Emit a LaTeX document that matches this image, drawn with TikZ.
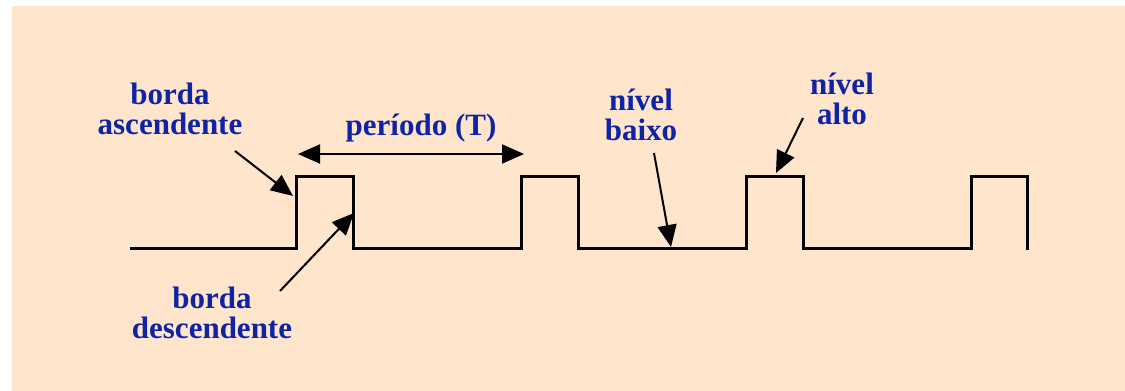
\documentclass[tikz,border=0pt]{standalone}
\usepackage{fontspec}
\setmainfont{Liberation Serif}
\usepackage{tikz}
\usetikzlibrary{arrows.meta,positioning}
\definecolor{labelblue}{RGB}{14,36,164}
\definecolor{peachbg}{RGB}{255,229,204}

\begin{document}
\begin{tikzpicture}[
    x=1pt, y=-1pt,
    lbl/.style={anchor=base, inner sep=0pt, align=center, text=labelblue,
                font=\fontsize{31}{29.5}\selectfont\bfseries},
    wave/.style={line width=3pt, line cap=rect, black},
    tip/.tip={Triangle[length=22pt, width=19pt]},
    arrow/.style={-tip, line width=2pt, black}
]
\useasboundingbox (0,0) rectangle (1125,391);
\fill[peachbg] (12,6) rectangle (1125,391);

% clock signal, period 225
\draw[wave] (131,248) -- (296,248) -- (296,176) -- (353,176) -- (353,248)
    -- (521,248) -- (521,176) -- (578,176) -- (578,248)
    -- (746,248) -- (746,176) -- (803,176) -- (803,248)
    -- (971,248) -- (971,176) -- (1027,176) -- (1027,248);

% labels (base = last line)
\node[lbl] (rise) at (170,134) {borda\\ascendente};
\node[lbl] (fall) at (212,338) {borda\\descendente};
\node[lbl] (period) at (421,135) {período (T)};
\node[lbl] (low) at (641,140) {nível\\baixo};
\node[lbl] (high) at (842,124) {nível\\alto};

% arrow ends
\coordinate (riseA) at (235,151);
\coordinate (riseB) at (293,196);
\coordinate (fallA) at (280,291);
\coordinate (fallB) at (354,213);
\coordinate (perA) at (298,154);
\coordinate (perB) at (524,154);
\coordinate (lowA) at (654,153);
\coordinate (lowB) at (671,247);
\coordinate (highA) at (803,118);
\coordinate (highB) at (776,173);

\draw[arrow] (riseA) -- (riseB);
\draw[arrow] (fallA) -- (fallB);
\draw[arrow, tip-tip] (perA) -- (perB);
\draw[arrow] (lowA) -- (lowB);
\draw[arrow] (highA) -- (highB);
\end{tikzpicture}
\end{document}
